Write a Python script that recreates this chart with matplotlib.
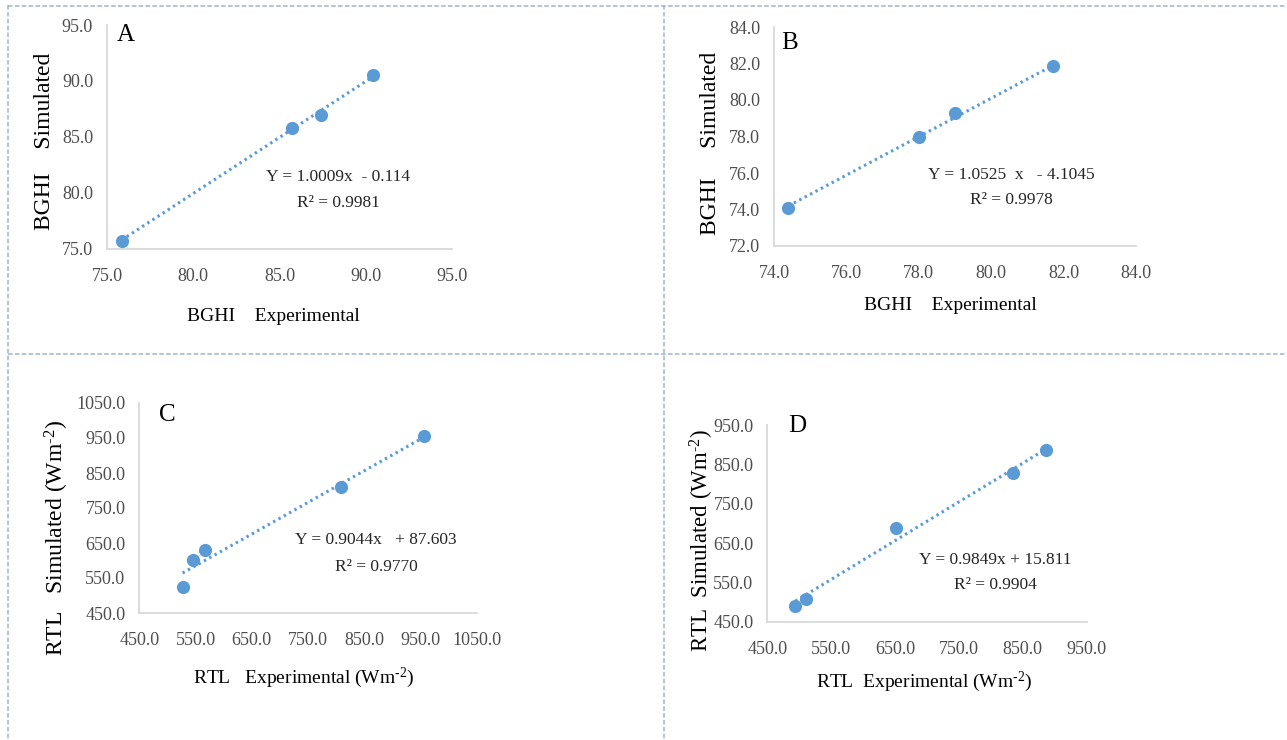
import matplotlib
matplotlib.use("Agg")
import matplotlib.pyplot as plt
from matplotlib.lines import Line2D
import numpy as np

plt.rcParams['font.family'] = ['Liberation Serif', 'DejaVu Serif']
plt.rcParams['mathtext.fontset'] = 'custom'
plt.rcParams['mathtext.rm'] = 'Liberation Serif'
plt.rcParams['mathtext.it'] = 'Liberation Serif:italic'
plt.rcParams['mathtext.bf'] = 'Liberation Serif:bold'

# ---------------- data ----------------
a_exp = [75.85, 85.7, 87.4, 90.4]
a_sim = [75.75, 85.8, 87.0, 90.5]
a_fit = [1.0009, -0.114]
a_ticks = [75.0, 80.0, 85.0, 90.0, 95.0]

b_exp = [74.4, 78.0, 79.0, 81.7]
b_sim = [74.1, 78.0, 79.3, 81.85]
b_fit = [1.0525, -4.1045]
b_ticks = [72.0, 74.0, 76.0, 78.0, 80.0, 82.0, 84.0]
b_xticks = [74.0, 76.0, 78.0, 80.0, 82.0, 84.0]

c_exp = [527, 546, 566, 808, 956]
c_sim = [524, 602, 630, 811, 957]
c_fit = [0.9044, 87.603]
c_ticks = [450.0, 550.0, 650.0, 750.0, 850.0, 950.0, 1050.0]

d_exp = [494, 511, 651, 835, 887]
d_sim = [490, 508, 687, 829, 887]
d_fit = [0.9849, 15.811]
d_ticks = [450.0, 550.0, 650.0, 750.0, 850.0, 950.0]

W, H = 1287, 740
fig = plt.figure(figsize=(W / 100, H / 100), dpi=100)

BLUE = '#5B9BD5'
GRID = '#D9D9D9'
TICKC = '#4D4D4D'

def px(x, y):
    return x / W, 1 - y / H

def make_ax(x0, y0, x1, y1):
    ax = fig.add_axes([x0 / W, 1 - y1 / H, (x1 - x0) / W, (y1 - y0) / H])
    for s in ['top', 'right']:
        ax.spines[s].set_visible(False)
    for s in ['left', 'bottom']:
        ax.spines[s].set_color(GRID)
        ax.spines[s].set_linewidth(1.3)
    ax.tick_params(length=0, labelsize=13, labelcolor=TICKC)
    ax.tick_params(axis='x', pad=14)
    ax.tick_params(axis='y', pad=10)
    ax.patch.set_alpha(0)
    return ax

def draw(ax, xs, ys, fit, xt, yt):
    xs = np.array(xs, float)
    line_x = np.array([xs.min(), xs.max()])
    ax.plot(line_x, fit[0] * line_x + fit[1], linestyle=(0, (0.8, 1.2)),
            color=BLUE, lw=2.2, zorder=2, solid_capstyle='butt')
    ax.plot(xs, ys, 'o', color=BLUE, markersize=9.5, zorder=3, markeredgewidth=0)
    ax.set_xticks(xt)
    ax.set_yticks(yt)
    ax.set_xticklabels([f"{v:.1f}" for v in xt])
    ax.set_yticklabels([f"{v:.1f}" for v in yt])
    ax.set_xlim(xt[0], xt[-1])
    ax.set_ylim(yt[0], yt[-1])
    for art in ax.lines:
        art.set_clip_on(False)

axA = make_ax(107, 25, 452, 249)
draw(axA, a_exp, a_sim, a_fit, a_ticks, a_ticks)
axB = make_ax(774, 27, 1136, 246)
draw(axB, b_exp, b_sim, b_fit, b_xticks, b_ticks)
axC = make_ax(139.3, 403, 476.7, 613)
draw(axC, c_exp, c_sim, c_fit, c_ticks, c_ticks)
axD = make_ax(767.3, 425, 1086.7, 621.7)
draw(axD, d_exp, d_sim, d_fit, d_ticks, d_ticks)

def ftext(x, y, s, size, rot=0, color='black', ha='center'):
    fig.text(*px(x, y), s, fontsize=size, rotation=rot, color=color,
             ha=ha, va='center', rotation_mode='anchor')

LBL = 14
YLBL = 17
EQ = 12.5
EQC = '#262626'
SUP = r'(Wm$^{\mathregular{-2}}$)'.replace('-', '\u2010')
# Panel A
ftext(117, 35, 'A', 18, ha='left')
ftext(273, 317, 'BGHI    Experimental', LBL)
ftext(45, 141, 'BGHI    Simulated', YLBL, rot=90)
ftext(338, 177, 'Y = 1.0009x  - 0.114', EQ, color=EQC)
ftext(338, 203, 'R² = 0.9981', EQ, color=EQC)
# Panel B
ftext(781, 43, 'B', 18, ha='left')
ftext(950, 306, 'BGHI    Experimental', LBL)
ftext(710, 143, 'BGHI     Simulated', YLBL, rot=90)
ftext(1011, 175, 'Y = 1.0525  x   - 4.1045', EQ, color=EQC)
ftext(1011, 200, 'R² = 0.9978', EQ, color=EQC)
# Panel C
ftext(159, 415, 'C', 18, ha='left')
ftext(304, 678, 'RTL   Experimental ' + SUP, LBL)
ftext(57, 538, 'RTL   Simulated ' + SUP, YLBL, rot=90)
ftext(376, 540, 'Y = 0.9044x   + 87.603', EQ, color=EQC)
ftext(376, 567, 'R² = 0.9770', EQ, color=EQC)
# Panel D
ftext(788, 426, 'D', 18, ha='left')
ftext(924, 682, 'RTL  Experimental ' + SUP, LBL)
ftext(702, 541, 'RTL  Simulated ' + SUP, 16.5, rot=90)
ftext(995, 560, 'Y = 0.9849x + 15.811', EQ, color=EQC)
ftext(995, 585, 'R² = 0.9904', EQ, color=EQC)

# dashed panel borders
BORDER = '#9FB4CF'
ls = (0, (3, 1.5))
for (xa, ya, xb, yb) in [(8, 5.5, 1287, 5.5), (8, 5, 8, 740),
                         (664, 5, 664, 740), (8, 354, 1287, 354)]:
    (fx0, fy0), (fx1, fy1) = px(xa, ya), px(xb, yb)
    fig.add_artist(Line2D([fx0, fx1], [fy0, fy1], transform=fig.transFigure,
                          color=BORDER, lw=1.1, linestyle=ls))

fig.savefig('out.png', dpi=100)
